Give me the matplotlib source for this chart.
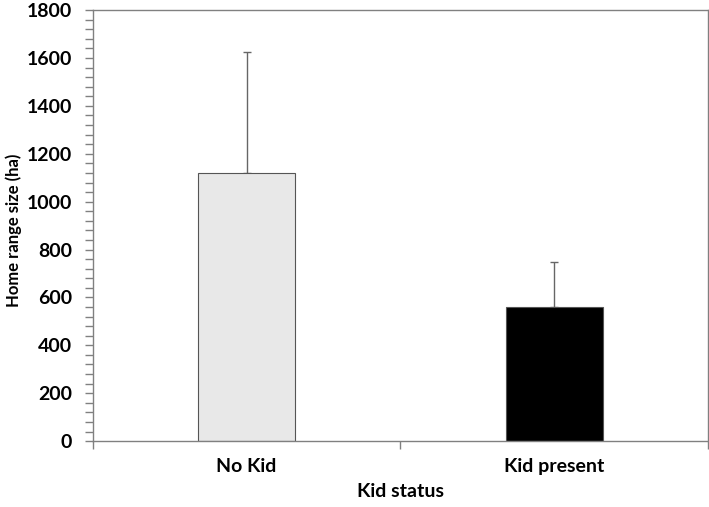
import matplotlib
matplotlib.use("Agg")
import matplotlib.pyplot as plt
from matplotlib.ticker import MultipleLocator, FixedLocator

categories = ["No Kid", "Kid present"]
means = [1120, 560]
errors = [505, 188]
colors = ["#e8e8e8", "#000000"]

plt.rcParams['font.family'] = ['Lato', 'DejaVu Sans']

fig = plt.figure(figsize=(7.09, 5.07), dpi=100)
ax = fig.add_axes([0.131, 0.130, 0.8675, 0.850])

x = list(range(len(categories)))
ax.bar(x, means, width=0.315, color=colors, edgecolor="#555555", linewidth=0.8, zorder=2)
ax.errorbar(x, means, yerr=[[0, 0], errors], fmt='none', ecolor="#666666",
            elinewidth=1.0, capsize=3, capthick=1.0, zorder=1)

ax.set_xlim(-0.5, 1.5)
ax.set_ylim(0, 1800)
ax.yaxis.set_major_locator(MultipleLocator(200))
ax.yaxis.set_minor_locator(MultipleLocator(40))
ax.set_xticks(x)
ax.set_xticklabels(categories, fontsize=14, fontweight='bold')
ax.xaxis.set_minor_locator(FixedLocator([-0.5, 0.5, 1.5]))
ax.tick_params(axis='x', which='major', length=0, pad=12)
ax.tick_params(axis='x', which='minor', length=6, width=1, color="#808080")
ax.tick_params(axis='y', which='both', direction='out', length=6, width=1, color="#808080",
               labelsize=14, pad=9)
for lbl in ax.get_yticklabels():
    lbl.set_fontweight('bold')

for s in ax.spines.values():
    s.set_color("#808080")
    s.set_linewidth(1.0)

ax.set_xlabel("Kid status", fontsize=14, fontweight='bold', labelpad=6)
ax.set_ylabel("Home range size (ha)", fontsize=12, fontweight='bold')
ax.yaxis.set_label_coords(-0.115, 0.49)

fig.savefig("out.png", dpi=100)
